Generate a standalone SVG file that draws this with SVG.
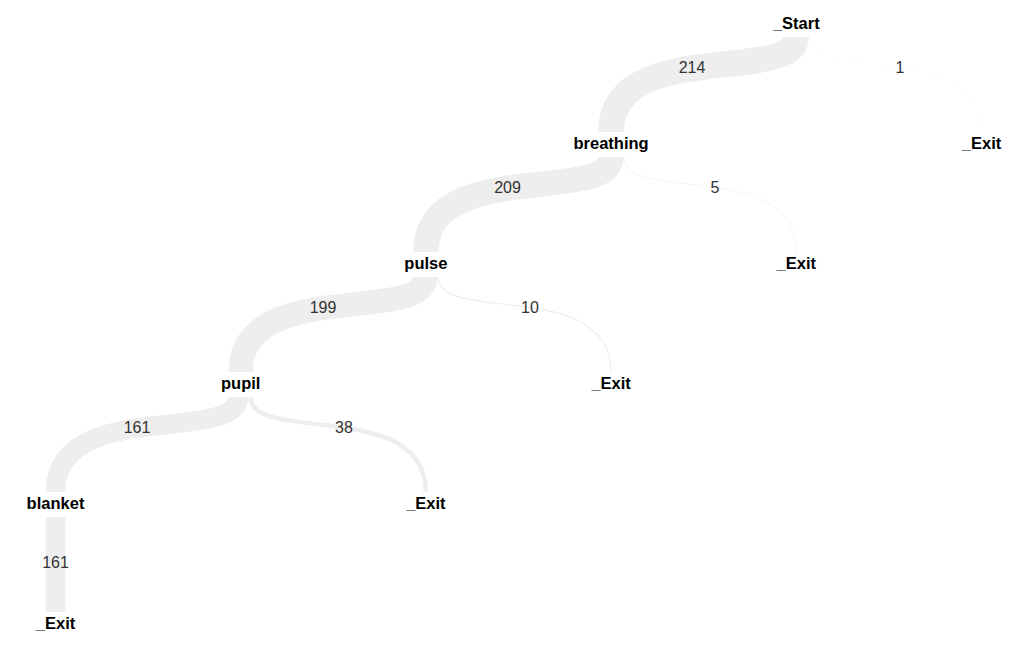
<svg xmlns="http://www.w3.org/2000/svg" width="1032" height="656" viewBox="0 0 1032 656">
  <style>
    .link { fill: none; stroke: #eeeeee; stroke-linecap: butt; }
    .node text { font-family: "Liberation Sans", Arial, sans-serif; font-size: 16.5px; font-weight: bold; fill: #000; text-anchor: middle; }
    .count { font-family: "Liberation Sans", Arial, sans-serif; font-size: 16px; fill: #333; text-anchor: middle; }
  </style>
  <rect width="1032" height="656" fill="#fff"/>

  <!-- flow bands: stroke width proportional to case count -->
  <g id="links">
    <path class="link" stroke-width="26" d="M795.9,37 C795.9,84.5 611.1,37 611.1,132"/>
    <path class="link" stroke-width="0.15" d="M809,37 C809,84.5 981.5,37 981.5,132"/>
    <path class="link" stroke-width="25.4" d="M610.8,157 C610.8,204.5 425.9,157 425.9,252"/>
    <path class="link" stroke-width="0.6" d="M623.8,157 C623.8,204.5 796.3,157 796.3,252"/>
    <path class="link" stroke-width="24.2" d="M425.3,277 C425.3,324.5 240.7,277 240.7,372"/>
    <path class="link" stroke-width="1.2" d="M438,277 C438,324.5 611.1,277 611.1,372"/>
    <path class="link" stroke-width="19.6" d="M238.4,397 C238.4,444.5 55.5,397 55.5,492"/>
    <path class="link" stroke-width="4.6" d="M250.5,397 C250.5,444.5 425.9,397 425.9,492"/>
    <path class="link" stroke-width="19.6" d="M55.5,517 L55.5,612"/>
    <text class="count" x="692" y="73">214</text>
    <text class="count" x="900" y="73">1</text>
    <text class="count" x="507.5" y="193">209</text>
    <text class="count" x="715" y="193">5</text>
    <text class="count" x="323" y="313">199</text>
    <text class="count" x="530" y="313">10</text>
    <text class="count" x="137" y="433">161</text>
    <text class="count" x="344" y="433">38</text>
    <text class="count" x="55.5" y="568">161</text>
  </g>

  <g id="start" class="node"><text x="796.3" y="29">_Start</text></g>
  <g id="exit-1" class="node"><text x="981.5" y="149">_Exit</text></g>
  <g id="breathing" class="node"><text x="611.1" y="149">breathing</text></g>
  <g id="pulse" class="node"><text x="425.9" y="269">pulse</text></g>
  <g id="exit-2" class="node"><text x="796.3" y="269">_Exit</text></g>
  <g id="pupil" class="node"><text x="240.7" y="389">pupil</text></g>
  <g id="exit-3" class="node"><text x="611.1" y="389">_Exit</text></g>
  <g id="blanket" class="node"><text x="55.5" y="509">blanket</text></g>
  <g id="exit-4" class="node"><text x="425.9" y="509">_Exit</text></g>
  <g id="exit-5" class="node"><text x="55.5" y="629">_Exit</text></g>
</svg>
